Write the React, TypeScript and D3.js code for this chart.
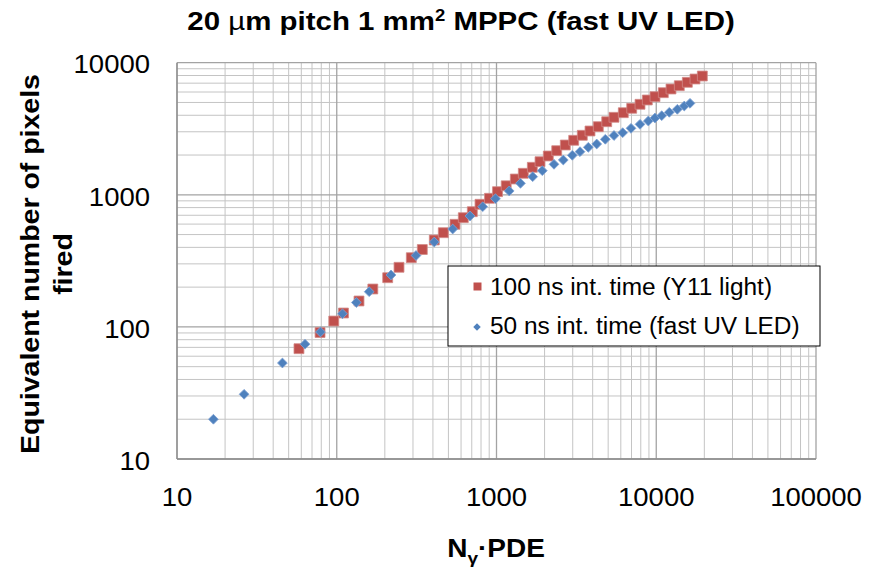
import React from "react";
import * as d3 from "d3";

// 50 ns int. time (fast UV LED) — blue diamonds
const blueX = [16.9, 26.3, 45.7, 63.3, 79.1, 108.6, 132.6, 159.6, 218.6, 313.4, 407.9, 531.9, 682.6, 819.6, 985.6, 1201, 1413, 1685, 1935, 2291, 2619, 2982, 3332, 3755, 4239, 4799, 5439, 6166, 6951, 7913, 8917, 9822, 10820, 12070, 13550, 14980, 16270];
const blueY = [20.0, 30.9, 53.3, 74.0, 91.5, 125.7, 153.0, 184.7, 247.2, 347.1, 439.2, 551, 691, 812.6, 934.3, 1069, 1222, 1371, 1522, 1702, 1834, 1991, 2120, 2288, 2424, 2632, 2811, 2952, 3187, 3417, 3620, 3814, 3971, 4212, 4438, 4700, 4928];

// 100 ns int. time (Y11 light) — red squares
const redX = [58.0, 78.6, 95.8, 110.2, 137.8, 168.2, 208.4, 245.3, 292.9, 343.2, 408, 464.5, 549.8, 619.7, 705.6, 788.3, 904, 1015, 1150, 1311, 1472, 1676, 1872, 2110, 2382, 2696, 3043, 3444, 3848, 4338, 4897, 5439, 6219, 7021, 7913, 8790, 9822, 11070, 12370, 13940, 15650, 17480, 19430];
const redY = [68.4, 90.7, 110.8, 127.4, 157.1, 193.6, 235.7, 282.6, 334.1, 385.3, 454.8, 516.6, 597.9, 671, 745, 847.6, 941, 1056, 1170, 1317, 1455, 1615, 1781, 1967, 2157, 2382, 2586, 2821, 3041, 3278, 3575, 3861, 4183, 4517, 4843, 5220, 5529, 5929, 6323, 6697, 7105, 7526, 7930];

const xDomain = [10, 100000];
const yDomain = [10, 10000];
const xTickLabels = ["10", "100", "1000", "10000", "100000"];
const yTickLabels = ["10", "100", "1000", "10000"];
const seriesNames = ["100 ns int. time (Y11 light)", "50 ns int. time (fast UV LED)"];

const W = 880, H = 569;
const L = 177, R = 816, T = 62.7, B = 459;
const FONT = "'Liberation Sans', Arial, Helvetica, sans-serif";
const RED = "#C0504D";
const BLUE = "#4F81BD";

export default function App() {
  const x = d3.scaleLog().domain(xDomain).range([L, R]);
  const y = d3.scaleLog().domain(yDomain).range([B, T]);
  const xTicks = x.ticks();
  const yTicks = y.ticks();
  const isMajor = (v: number) => Math.abs(Math.log10(v) - Math.round(Math.log10(v))) < 1e-9;

  const square = d3.symbol(d3.symbolSquare, 98)()!;
  const diamond = d3.symbol(d3.symbolSquare, 48)()!;
  const legSquare = d3.symbol(d3.symbolSquare, 64)()!;
  const legDiamond = d3.symbol(d3.symbolSquare, 28)()!;

  const red = redX.map((v, i) => [v, redY[i]]);
  const blue = blueX.map((v, i) => [v, blueY[i]]);

  return (
    <svg width={W} height={H} style={{ position: "absolute", left: 0, top: 0, background: "#fff" }} fontFamily={FONT}>
      <rect x={0} y={0} width={W} height={H} fill="#fff" />
      {/* title */}
      <text transform={`translate(461,30) scale(1.155,1)`} textAnchor="middle" fontSize={25.5} fontWeight="bold" fill="#000">
        20 <tspan fontWeight="normal">µ</tspan>m pitch 1 mm<tspan fontSize={16} dy={-9}>2</tspan><tspan dy={9}> MPPC (fast UV LED)</tspan>
      </text>

      {/* grid */}
      <g>
        {xTicks.filter(v => !isMajor(v)).map((v, i) => (
          <line key={"xm" + i} x1={x(v)} x2={x(v)} y1={T} y2={B} stroke="#c4c4c4" strokeWidth={1} />
        ))}
        {yTicks.filter(v => !isMajor(v)).map((v, i) => (
          <line key={"ym" + i} x1={L} x2={R} y1={y(v)} y2={y(v)} stroke="#c4c4c4" strokeWidth={1} />
        ))}
        {xTicks.filter(isMajor).map((v, i) => (
          <line key={"xM" + i} x1={x(v)} x2={x(v)} y1={T} y2={B} stroke="#a3a3a3" strokeWidth={1.3} />
        ))}
        {yTicks.filter(isMajor).map((v, i) => (
          <line key={"yM" + i} x1={L} x2={R} y1={y(v)} y2={y(v)} stroke="#a3a3a3" strokeWidth={1.3} />
        ))}
        <line x1={L} x2={L} y1={T} y2={B} stroke="#8c8c8c" strokeWidth={1.3} />
        <line x1={L} x2={R} y1={B} y2={B} stroke="#8c8c8c" strokeWidth={1.3} />
      </g>

      {/* y tick labels */}
      {yTickLabels.map((t, i) => (
        <text key={"yl" + i} transform={`translate(150,${y(+t) + 10.7}) scale(1.1,1)`} textAnchor="end" fontSize={25} fill="#000">{t}</text>
      ))}
      {/* x tick labels */}
      {xTickLabels.map((t, i) => (
        <text key={"xl" + i} transform={`translate(${x(+t)},${506}) scale(1.1,1)`} textAnchor="middle" fontSize={25} fill="#000">{t}</text>
      ))}

      {/* axis titles */}
      <text transform={`translate(39,264) rotate(-90) scale(1.14,1)`} textAnchor="middle" fontSize={25} fontWeight="bold" fill="#000">Equivalent number of pixels</text>
      <text transform={`translate(72,264) rotate(-90) scale(1.14,1)`} textAnchor="middle" fontSize={25} fontWeight="bold" fill="#000">fired</text>
      <text transform={`translate(496,557) scale(1.12,1)`} textAnchor="middle" fontSize={25} fontWeight="bold" fill="#000">
        N<tspan fontSize={17} dy={7}>γ</tspan><tspan dy={-7}>·PDE</tspan>
      </text>

      {/* data */}
      <g>
        {red.map((d, i) => (
          <path key={"r" + i} d={square} transform={`translate(${x(d[0])},${y(d[1])})`} fill={RED} stroke="#d28885" strokeWidth={0.8} />
        ))}
        {blue.map((d, i) => (
          <path key={"b" + i} d={diamond} transform={`translate(${x(d[0])},${y(d[1])}) rotate(45)`} fill={BLUE} stroke="#7ea2d3" strokeWidth={0.8} />
        ))}
      </g>

      {/* legend */}
      <g>
        <rect x={448} y={266} width={372} height={80} fill="#fff" stroke="#000" strokeWidth={1} />
        <path d={legSquare} transform="translate(477.5,286.5)" fill={RED} />
        <text transform="translate(490,295) scale(1.04,1)" fontSize={23.5} fill="#000">{seriesNames[0]}</text>
        <path d={legDiamond} transform="translate(477,327) rotate(45)" fill={BLUE} />
        <text transform="translate(490,334) scale(1.04,1)" fontSize={23.5} fill="#000">{seriesNames[1]}</text>
      </g>
    </svg>
  );
}
